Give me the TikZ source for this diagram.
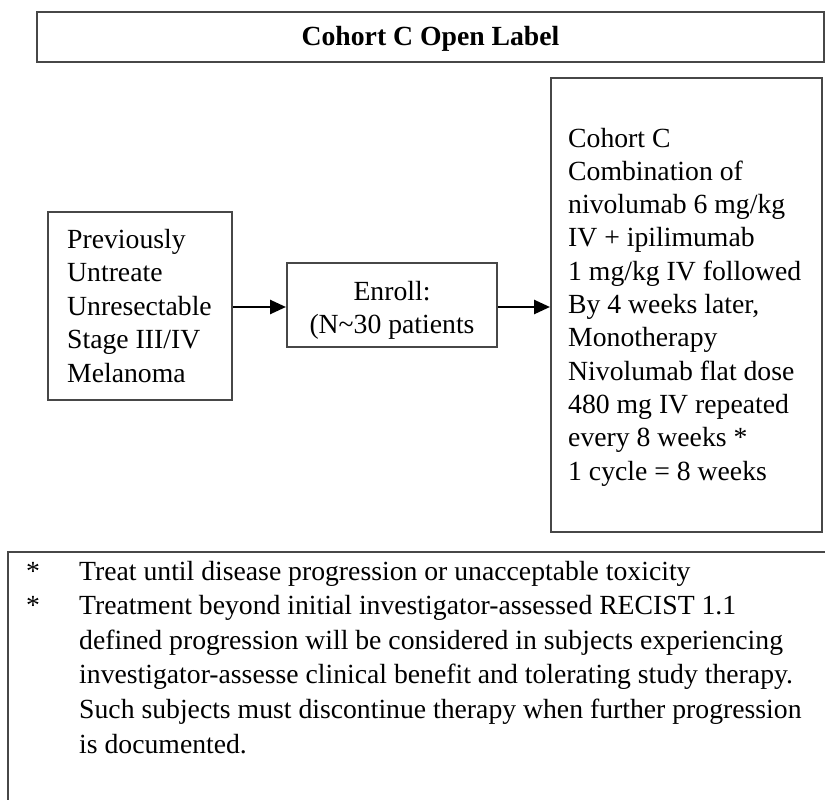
\documentclass[tikz,border=0pt]{standalone}
\usepackage{fontspec}
\setmainfont{Liberation Serif}
\usetikzlibrary{arrows.meta}
\tikzset{
  box/.style={draw=black!72, line width=2pt, rectangle, inner sep=0pt},
  txt/.style={inner sep=0pt, font=\fontsize{27.7pt}{33pt}\selectfont, text=black},
  ttl/.style={inner sep=0pt, font=\fontsize{27.7pt}{33pt}\selectfont\bfseries, text=black},
  arr/.style={line width=2.6pt, -{Triangle[length=16pt,width=14pt]}},
}
\begin{document}
\begin{tikzpicture}[x=1pt,y=-1pt]
\useasboundingbox[fill=white] (0,0) rectangle (825,800);
% title
\node[box, minimum width=787pt, minimum height=50pt] (title) at (430.5,37) {};
\node[ttl, anchor=base] (titletxt) at (430.5,46) {Cohort C Open Label};
% left box
\node[box, minimum width=184pt, minimum height=188pt] (left) at (140,306) {};
\foreach \t [count=\i] in {{Previously},{Untreate},{Unresectable},{Stage III/IV},{Melanoma}}
  \node[txt, anchor=base west] (lt\i) at (67,{248+33.5*(\i-1)}) {\t};
% enroll box
\node[box, minimum width=210pt, minimum height=84pt] (enroll) at (392,305) {};
\node[txt, anchor=base] (en1) at (392,300) {Enroll:};
\node[txt, anchor=base] (en2) at (392,333) {(N\textasciitilde30 patients};
% right box
\node[box, minimum width=271pt, minimum height=454pt] (right) at (686.5,305) {};
\foreach \t [count=\i] in {{Cohort C},{Combination of},{nivolumab 6 mg/kg},{IV + ipilimumab},{1 mg/kg IV followed},{By 4 weeks later,},{Monotherapy},{Nivolumab flat dose},{480 mg IV repeated},{every 8 weeks *},{1 cycle = 8 weeks}}
  \node[txt, anchor=base west] (rt\i) at (568,{147+33.3*(\i-1)}) {\t};
% arrows
\draw[arr] (left.east |- 0,307) coordinate (a1) -- (enroll.west |- a1);
\draw[arr] (enroll.east |- 0,307) coordinate (a2) -- (right.west |- a2);
% bottom box (cut by the page edges)
\draw[draw=black!72, line width=2pt] (840,552) -- (8,552) -- (8,815);
\node[txt, anchor=base] (s1) at (33,580) {*};
\node[txt, anchor=base] (s2) at (33,614.6) {*};
\foreach \t [count=\i] in {{Treat until disease progression or unacceptable toxicity},{Treatment beyond initial investigator-assessed RECIST 1.1},{defined progression will be considered in subjects experiencing},{investigator-assesse clinical benefit and tolerating study therapy.},{Such subjects must discontinue therapy when further progression},{is documented.}}
  \node[txt, anchor=base west] (bt\i) at (79,{580+34.6*(\i-1)}) {\t};
\end{tikzpicture}
\end{document}
